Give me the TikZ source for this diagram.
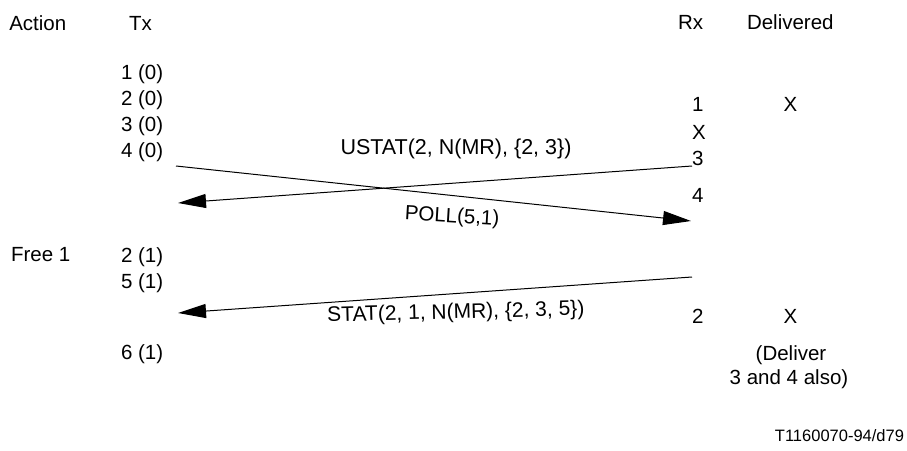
\documentclass[tikz,border=0pt]{standalone}
\usepackage{fontspec}
\setmainfont{Liberation Sans}
\usetikzlibrary{arrows.meta}
\begin{document}
\begin{tikzpicture}[x=1pt,y=-1pt,
  lbl/.style={inner sep=0pt, outer sep=0pt, font=\fontsize{20.5}{24}\selectfont, anchor=base west},
  ctr/.style={lbl, anchor=base},
  small/.style={inner sep=0pt, outer sep=0pt, font=\fontsize{16.5}{20}\selectfont, anchor=base east},
  msg/.style={line width=1pt, -{Triangle[length=28pt,width=14pt]}}]
\useasboundingbox (0,0) rectangle (907,450);
% headers
\node[lbl] (action) at (9.3,30) {Action};
\node[lbl] (tx) at (129,30) {Tx};
\node[lbl] (rx) at (678,29) {Rx};
\node[lbl] (delivered) at (747,29) {Delivered};
% Tx column
\node[lbl] (t1) at (121,79) {1 (0)};
\node[lbl] (t2) at (121,105) {2 (0)};
\node[lbl] (t3) at (121,131) {3 (0)};
\node[lbl] (t4) at (121,157) {4 (0)};
\node[lbl] (free) at (11,261) {Free 1};
\node[lbl] (t5) at (121,262) {2 (1)};
\node[lbl] (t6) at (121,288) {5 (1)};
\node[lbl] (t7) at (121,359) {6 (1)};
% Rx column
\node[lbl] (r1) at (692,111) {1};
\node[lbl] (rX) at (692,139) {X};
\node[lbl] (r3) at (692,165) {3};
\node[lbl] (r4) at (692,202) {4};
\node[lbl] (r2) at (692,323) {2};
% Delivered column
\node[ctr] (d1) at (790.5,111) {X};
\node[ctr] (d2) at (790.5,323) {X};
\node[ctr] (note1) at (791,360) {(Deliver};
\node[ctr] (note2) at (789,384) {3 and 4 also)};
% footer
\node[small] (ref) at (904,441.7) {T1160070-94/d79};
% message ends
\coordinate (pollS) at (176,166);
\coordinate (pollE) at (691,221);
\coordinate (ustS) at (692,166);
\coordinate (ustE) at (178,203);
\coordinate (statS) at (692,277);
\coordinate (statE) at (178,313);
\draw[msg] (pollS) -- (pollE);
\draw[msg] (ustS) -- (ustE);
\draw[msg] (statS) -- (statE);
% message labels
\node[lbl, font=\fontsize{21.5}{25}\selectfont] (ustat) at (340.5,154) {USTAT(2, N(MR), \{2, 3\})};
\node[ctr, rotate=-3.5] (poll) at (451.7,222.5) {POLL(5,1)};
\node[ctr, font=\fontsize{21}{25}\selectfont, rotate=1.5] (stat) at (456,318.5) {STAT(2, 1, N(MR), \{2, 3, 5\})};
\end{tikzpicture}
\end{document}
